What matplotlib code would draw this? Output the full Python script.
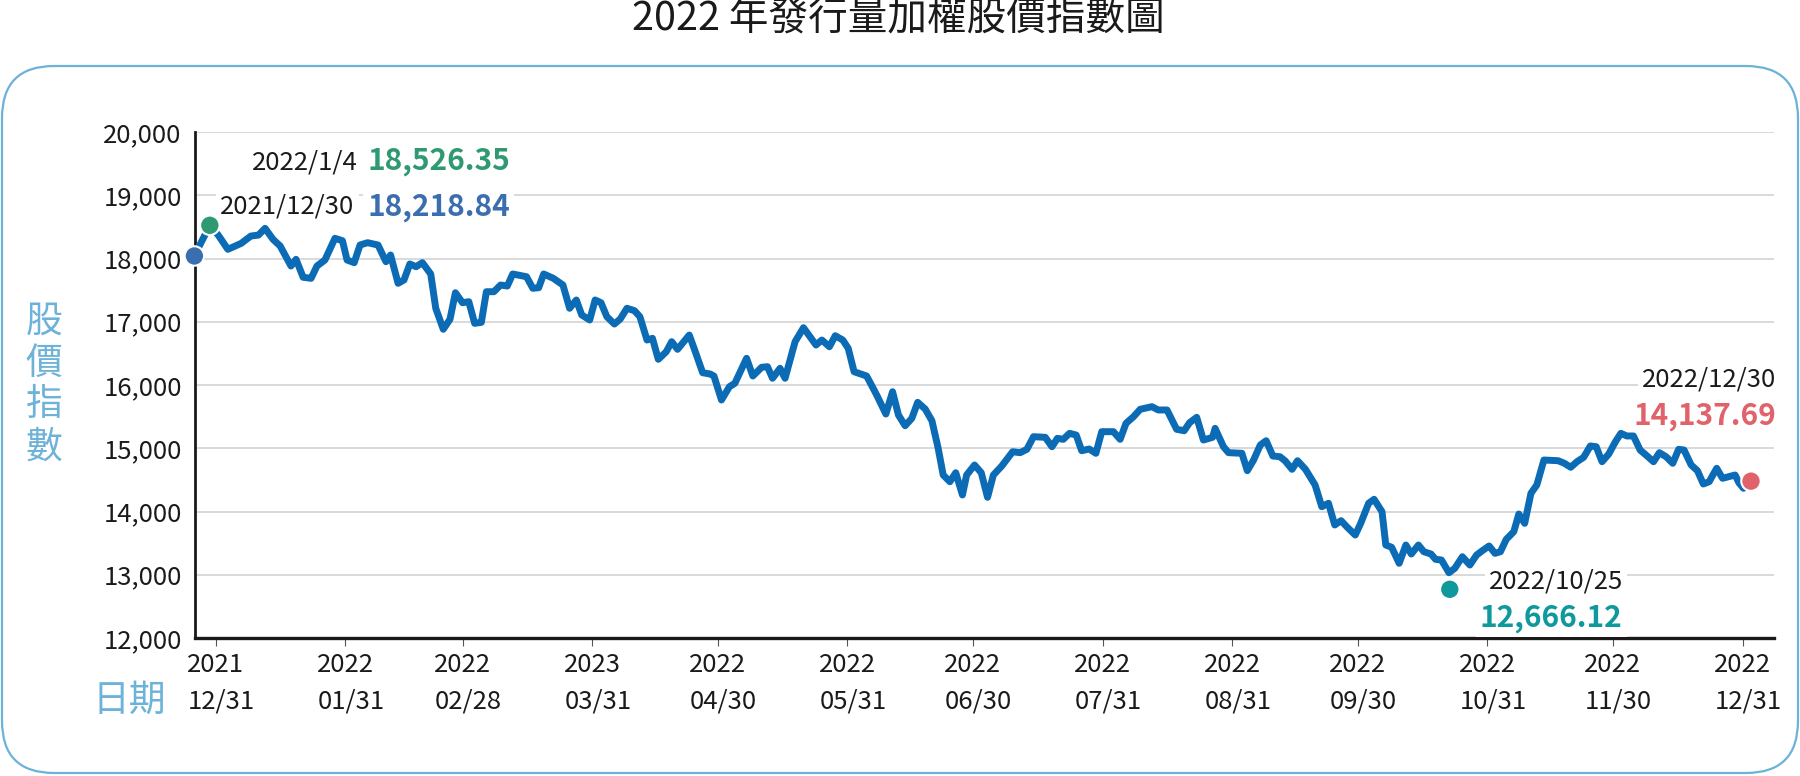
import numpy as np
import pandas as pd
import matplotlib
matplotlib.use("Agg")
import matplotlib.pyplot as plt
from matplotlib.patches import FancyBboxPatch
from matplotlib.ticker import StrMethodFormatter
from matplotlib import transforms

plt.rcParams['font.family'] = ['Noto Sans CJK TC', 'DejaVu Sans']

# --- data ---
# x: days after 2021-12-31, y: index level (as drawn on the chart's axis)
day = [-5.1, -1.4, 0.6, 2.9, 6.1, 8.4, 10.2, 11.8, 13.7, 15.4,
       18.0, 19.2, 20.9, 22.8, 24.2, 26.1, 28.5, 30.3, 31.4, 33.1,
       34.5, 36.3, 38.8, 40.7, 41.8, 43.6, 45.0, 46.4, 47.9, 49.4,
       51.4, 52.6, 54.4, 56.0, 57.3, 59.0, 60.5, 61.9, 63.5, 64.7,
       66.5, 68.1, 69.7, 71.0, 74.3, 75.8, 77.2, 78.4, 80.7, 83.0,
       84.6, 86.2, 87.5, 89.4, 90.7, 92.1, 93.5, 95.3, 96.7, 98.3,
       100.1, 101.4, 103.1, 104.4, 105.8, 107.7, 109.0, 110.4, 113.2, 114.5,
       116.4, 118.2, 119.1, 120.9, 122.8, 124.1, 126.9, 128.4, 130.5, 131.9,
       133.1, 134.9, 136.1, 138.5, 140.5, 143.5, 144.9, 146.7, 148.1, 149.9,
       151.2, 152.6, 155.6, 158.0, 160.2, 161.8, 163.2, 164.8, 166.4, 167.8,
       169.6, 171.2, 172.7, 173.9, 175.5, 176.9, 178.5, 179.5, 181.4, 183.0,
       184.5, 185.9, 187.9, 190.5, 192.3, 193.9, 195.5, 198.3, 199.9, 201.2,
       202.6, 204.1, 205.7, 207.0, 208.8, 210.4, 211.8, 214.6, 216.2, 217.6,
       219.4, 221.0, 223.8, 225.3, 227.4, 229.7, 231.5, 232.8, 234.5, 236.1,
       238.3, 238.9, 240.9, 242.1, 245.3, 246.6, 248.1, 249.7, 251.1, 252.7,
       254.4, 255.6, 257.3, 258.6, 260.5, 262.8, 264.4, 266.0, 267.5, 269.0,
       270.5, 272.4, 273.7, 275.6, 276.9, 278.8, 279.7, 281.1, 282.9, 284.5,
       285.8, 287.5, 288.8, 290.5, 291.6, 293.0, 294.8, 296.2, 298.0, 299.8,
       301.4, 303.0, 304.4, 305.8, 307.1, 308.5, 310.3, 311.5, 312.9, 314.4,
       315.8, 317.5, 320.9, 322.4, 323.9, 325.4, 327.0, 328.6, 330.0, 331.4,
       333.0, 334.6, 335.9, 337.3, 338.9, 340.5, 341.9, 343.7, 345.1, 346.7,
       348.3, 349.7, 351.0, 352.7, 354.2, 355.6, 357.0, 358.8, 360.2, 361.6,
       363.2, 364.1, 365.2]

index_val = [18044, 18525, 18370, 18145, 18240, 18355, 18370, 18477, 18303, 18198,
             17881, 17987, 17703, 17687, 17881, 17976, 18319, 18281, 17976, 17934,
             18213, 18250, 18213, 17949, 18055, 17608, 17660, 17913, 17870, 17934,
             17755, 17213, 16881, 17039, 17459, 17301, 17317, 16975, 16991, 17475,
             17475, 17581, 17565, 17755, 17712, 17529, 17538, 17755, 17687, 17581,
             17213, 17344, 17107, 17028, 17344, 17301, 17080, 16964, 17043, 17213,
             17175, 17080, 16711, 16738, 16406, 16526, 16685, 16564, 16790, 16553,
             16194, 16174, 16142, 15763, 15973, 16027, 16422, 16142, 16280, 16289,
             16106, 16264, 16106, 16685, 16906, 16632, 16711, 16605, 16779, 16711,
             16580, 16210, 16142, 15842, 15541, 15894, 15526, 15356, 15473, 15726,
             15620, 15436, 14999, 14577, 14471, 14613, 14261, 14577, 14735, 14613,
             14224, 14577, 14719, 14945, 14930, 14983, 15183, 15173, 15024, 15157,
             15141, 15236, 15209, 14961, 14988, 14920, 15262, 15262, 15141, 15394,
             15499, 15616, 15657, 15605, 15605, 15300, 15277, 15404, 15489, 15130,
             15173, 15315, 15024, 14930, 14920, 14645, 14814, 15051, 15119, 14877,
             14866, 14803, 14667, 14803, 14667, 14419, 14076, 14130, 13787, 13855,
             13750, 13628, 13813, 14130, 14193, 13997, 13470, 13434, 13181, 13470,
             13328, 13470, 13364, 13328, 13244, 13233, 13032, 13102, 13285, 13154,
             13312, 13391, 13455, 13339, 13364, 13560, 13681, 13960, 13813, 14288,
             14419, 14814, 14803, 14762, 14699, 14787, 14857, 15036, 15024, 14787,
             14909, 15104, 15236, 15194, 15194, 14972, 14893, 14787, 14930, 14866,
             14762, 14983, 14972, 14735, 14645, 14435, 14471, 14683, 14525, 14550,
             14577, 14455, 14367]

tick_dates = ['2021-12-31', '2022-01-31', '2022-02-28', '2022-03-31', '2022-04-30',
              '2022-05-31', '2022-06-30', '2022-07-31', '2022-08-31', '2022-09-30',
              '2022-10-31', '2022-11-30', '2022-12-31']
tick_years = ['2021', '2022', '2022', '2023', '2022', '2022', '2022',
              '2022', '2022', '2022', '2022', '2022', '2022']
tick_mmdd = ['12/31', '01/31', '02/28', '03/31', '04/30', '05/31', '06/30',
             '07/31', '08/31', '09/30', '10/31', '11/30', '12/31']

# highlighted points (start, high, low, close)
point_day = [-5.1, -1.4, 295.0, 367.0]
point_val = [18040, 18525, 12770, 14480]

ink = '#1a1a1a'
line_blue = '#0b6bb5'
blue = '#3b6eae'
green = '#2f9a72'
teal = '#10999c'
red = '#e0626b'
frame_blue = '#6cb2d9'
point_color = [blue, green, teal, red]

# text, x, y, ha, colour, bold
notes = [
    ("2022/1/4", 34.0, 19400, 'right', ink, False),
    ("18,526.35", 36.3, 19400, 'left', green, True),
    ("2021/12/30", 1.1, 18710, 'left', ink, False),
    ("18,218.84", 36.3, 18680, 'left', blue, True),
    ("2022/10/25", 336.4, 12790, 'right', ink, False),
    ("12,666.12", 336.3, 12180, 'right', teal, True),
    ("2022/12/30", 373.0, 15970, 'right', ink, False),
    ("14,137.69", 373.0, 15370, 'right', red, True),
]

# ---- figure ----
fig = plt.figure(figsize=(18, 7.76), dpi=100)

# background: rounded frame, title, axis names (pixel coordinates)
bg = fig.add_axes([0, 0, 1, 1], zorder=0)
bg.set_xlim(0, 1800)
bg.set_ylim(0, 776)
bg.axis('off')
bg.add_patch(FancyBboxPatch((2, 3), 1796, 707, boxstyle='round,pad=0,rounding_size=52',
                            fc='white', ec=frame_blue, lw=1.6))
bg.text(898, 757, '2022 年發行量加權股價指數圖', ha='center', va='center',
        fontsize=28.5, color=ink)
bg.text(44, 392, '股\n價\n指\n數', ha='center', va='center', fontsize=26.5,
        linespacing=1.1, color=frame_blue)
bg.text(166, 76, '日期', ha='right', va='center', fontsize=26.5, color=frame_blue)

ax = fig.add_axes([195 / 1800, 1 - 638 / 776, (1774 - 195) / 1800, (638 - 132) / 776],
                  zorder=1)
ax.set_facecolor('none')

ax.plot(day, index_val, color=line_blue, lw=5.0, solid_joinstyle='round',
        solid_capstyle='round', zorder=5)
ax.scatter(point_day, point_val, s=14 ** 2, c=point_color, edgecolors='white',
           linewidths=1.5, zorder=6, clip_on=False)

for text, x, y, ha, col, bold in notes:
    ax.text(x, y, text, ha=ha, va='baseline', color=col,
            fontsize=21.5 if bold else 18.5, fontweight='bold' if bold else 'normal',
            bbox=dict(fc='white', ec='none', pad=3), zorder=4, clip_on=False)

# axes styling
ax.set_xlim(-4.95, 372.5)
ax.set_ylim(12000, 20000)
ax.set_yticks(np.arange(12000, 20001, 1000))
ax.yaxis.set_major_formatter(StrMethodFormatter('{x:,.0f}'))
ax.tick_params(axis='y', length=0, pad=9.5, labelsize=18.5, labelcolor=ink)
ax.yaxis.grid(True, color='#cfcfcf', lw=1.1)
ax.set_axisbelow(True)

for s in ['top', 'right']:
    ax.spines[s].set_visible(False)
ax.spines['left'].set_linewidth(2.0)
ax.spines['left'].set_color(ink)
ax.spines['bottom'].set_linewidth(2.4)
ax.spines['bottom'].set_color(ink)

base = pd.Timestamp('2021-12-31')
tick_x = (pd.to_datetime(tick_dates) - base).days.values
ax.set_xticks(tick_x)
ax.tick_params(axis='x', length=6, width=0.8, color='#555555', labelbottom=False)

xt = ax.get_xaxis_transform()
xt_left = xt + transforms.ScaledTranslation(-27.8 / 100, 0, fig.dpi_scale_trans)
for x, yr, md in zip(tick_x, tick_years, tick_mmdd):
    ax.text(x, -0.0666, yr, transform=xt, ha='center', va='baseline',
            fontsize=18.5, color=ink, clip_on=False)
    ax.text(x, -0.1403, md, transform=xt_left, ha='left', va='baseline',
            fontsize=18.5, color=ink, clip_on=False)

fig.savefig('out.png', dpi=100)
